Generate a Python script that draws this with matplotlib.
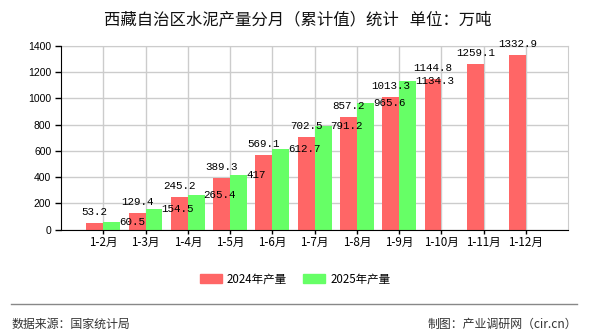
import matplotlib
matplotlib.use("Agg")
import matplotlib.pyplot as plt
from matplotlib.patches import Patch
from matplotlib.lines import Line2D

plt.rcParams["font.family"] = ["Noto Sans CJK SC", "DejaVu Sans"]

months = ["1-2月", "1-3月", "1-4月", "1-5月", "1-6月", "1-7月",
          "1-8月", "1-9月", "1-10月", "1-11月", "1-12月"]
output_2024 = [53.2, 129.4, 245.2, 389.3, 569.1, 702.5, 857.2, 1013.3, 1144.8, 1259.1, 1332.9]
output_2025 = [60.5, 154.5, 265.4, 417, 612.7, 791.2, 965.6, 1134.3]
labels_2024 = ["53.2", "129.4", "245.2", "389.3", "569.1", "702.5", "857.2",
               "1013.3", "1144.8", "1259.1", "1332.9"]
labels_2025 = ["60.5", "154.5", "265.4", "417", "612.7", "791.2", "965.6", "1134.3"]

RED = "#ff6666"
GREEN = "#66ff66"
GRID = "#cccccc"
W = 0.4


def main():
    fig = plt.figure(figsize=(5.9, 3.3), dpi=100)
    ax = fig.add_axes([61 / 590, 1 - 229.5 / 330, 507.3 / 590, 183.5 / 330])

    xs = list(range(1, len(months) + 1))
    x24 = [x - W / 2 for x in xs]
    x25 = [x + W / 2 for x in xs[:len(output_2025)]]
    ax.bar(x24, output_2024, width=W, color=RED, zorder=2)
    ax.bar(x25, output_2025, width=W, color=GREEN, zorder=2)

    # 2024 labels sit above the bar, 2025 labels hang off the bar's right edge
    for x, v, t in zip(x24, output_2024, labels_2024):
        ax.annotate(t, (x, v), xytext=(0, 8), textcoords="offset pixels",
                    ha="center", va="baseline", fontsize=7.8,
                    family="Liberation Mono", zorder=4)
    for x, v, t in zip(x25, output_2025, labels_2025):
        ax.annotate(t, (x + W / 2, v), xytext=(-1, 0), textcoords="offset pixels",
                    ha="left", va="center", fontsize=7.8,
                    family="Liberation Mono", zorder=4)

    ax.set_xlim(0, 12)
    ax.set_ylim(0, 1400)
    ax.set_yticks(range(0, 1401, 200))
    ax.set_xticks(xs)
    ax.set_xticklabels(months, fontsize=8.4)
    for lab in ax.get_yticklabels():
        lab.set_family("Liberation Sans")
        lab.set_fontsize(7.5)
    ax.tick_params(axis="y", length=4, width=1, pad=3)
    ax.tick_params(axis="x", length=3, width=1, pad=2)

    ax.grid(True, color=GRID, linewidth=1, zorder=0)
    ax.set_axisbelow(True)
    for s in ["top", "right"]:
        ax.spines[s].set_color(GRID)
    for s in ["left", "bottom"]:
        ax.spines[s].set_color("black")
        ax.spines[s].set_zorder(3)

    fig.text(0.505, 1 - 20 / 330, "西藏自治区水泥产量分月（累计值）统计   单位：万吨",
             ha="center", va="center", fontsize=11.8, color="#111111")

    handles = [Patch(color=RED, label="2024年产量"), Patch(color=GREEN, label="2025年产量")]
    fig.legend(handles=handles, loc="center", bbox_to_anchor=(0.5, 1 - 279 / 330),
               ncol=2, frameon=False, fontsize=8.3, handlelength=1.9, handleheight=0.75,
               handletextpad=0.45, columnspacing=1.4)

    fig.add_artist(Line2D([10.6 / 590, 577 / 590], [1 - 304 / 330] * 2,
                          color="#888888", linewidth=1))
    fig.text(12 / 590, 1 - 324 / 330, "数据来源：国家统计局", ha="left", va="center",
             fontsize=8.6, color="#333333")
    fig.text(577 / 590, 1 - 324 / 330, "制图：产业调研网（cir.cn）", ha="right", va="center",
             fontsize=8.6, color="#333333")

    fig.savefig("out.png", dpi=100)


if __name__ == "__main__":
    main()
